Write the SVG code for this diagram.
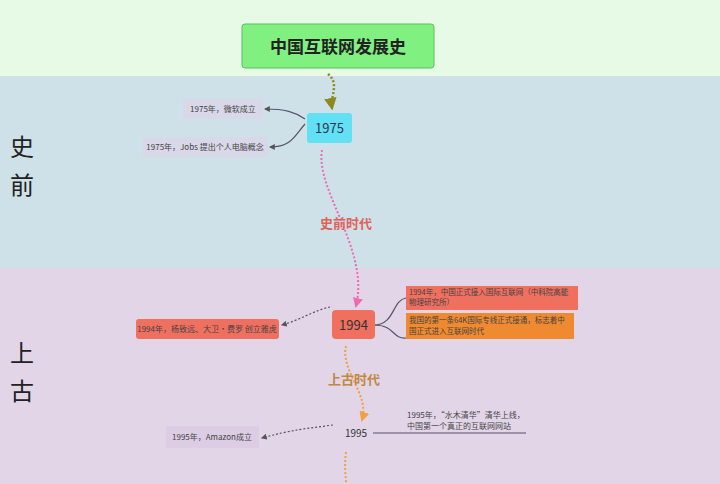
<svg xmlns="http://www.w3.org/2000/svg" width="720" height="484" viewBox="0 0 720 484">
<defs>
<style>
text{font-family:"Noto Sans CJK SC","Noto Sans",sans-serif}
.s{font-size:8px;fill:#444}
.t{font-size:7.5px;fill:#444}
.side{font-size:24px;fill:#222}
.gl{fill:none;stroke:#555;stroke-width:1.2;stroke-dasharray:2,2}
.sl{fill:none;stroke:#556;stroke-width:1.2}
</style>
<marker id="ah" viewBox="0 0 10 10" refX="8" refY="5" markerWidth="5" markerHeight="5" orient="auto"><path d="M0,0L10,5L0,10z" fill="#555"/></marker>
<marker id="aol" viewBox="0 0 10 10" refX="8" refY="5" markerWidth="5" markerHeight="5" orient="auto"><path d="M0,0L10,5L0,10z" fill="#8a8a20"/></marker>
<marker id="apk" viewBox="0 0 10 10" refX="8" refY="5" markerWidth="5" markerHeight="5" orient="auto"><path d="M0,0L10,5L0,10z" fill="#f06ab0"/></marker>
<marker id="aor" viewBox="0 0 10 10" refX="8" refY="5" markerWidth="5" markerHeight="5" orient="auto"><path d="M0,0L10,5L0,10z" fill="#f0a040"/></marker>
</defs>
<rect width="720" height="76" fill="#e6fae6"/>
<rect y="76" width="720" height="192" fill="#cfe1e8"/>
<rect y="268" width="720" height="216" fill="#e3d5e8"/>
<text x="10" y="156" class="side">史</text>
<text x="10" y="194" class="side">前</text>
<text x="10" y="362" class="side">上</text>
<text x="10" y="400" class="side">古</text>

<g id="connectors">
<path d="M328,74 C340,84 330,96 332,108" fill="none" stroke="#8a8a20" stroke-width="2.5" stroke-dasharray="2,2" marker-end="url(#aol)"/>
<path d="M322,150 C315,190 370,250 356,306" fill="none" stroke="#f06ab0" stroke-width="2" stroke-dasharray="2,2" marker-end="url(#apk)"/>
<path d="M346,346 C340,370 370,395 362,420" fill="none" stroke="#f0a040" stroke-width="2" stroke-dasharray="2,2" marker-end="url(#aor)"/>
<path d="M346,452 C344,465 346,478 346,484" fill="none" stroke="#f0a040" stroke-width="2" stroke-dasharray="2,2"/>
<path d="M305,119 C295,112 285,109 265,109" class="sl" marker-end="url(#ah)"/>
<path d="M305,124 C295,135 292,147 270,147" class="sl" marker-end="url(#ah)"/>
<path d="M330,307 C315,310 300,320 282,325" class="gl" marker-end="url(#ah)"/>
<path d="M374,325 C395,325 392,300 406,298" class="sl"/>
<path d="M374,325 C395,325 392,339 406,338" class="sl"/>
<path d="M333,425 C310,428 290,430 262,438" class="gl" marker-end="url(#ah)"/>
<path d="M373,433 L526,433" class="sl"/>
</g>

<g id="title"><rect x="242" y="24" width="192" height="44" rx="3" fill="#80f080" stroke="#5cc05c"/><text x="338" y="53" text-anchor="middle" font-size="17" font-weight="bold" fill="#222">中国互联网发展史</text></g>
<g id="n1975"><rect x="307" y="113" width="45" height="30" rx="3" fill="#62e0f4"/><text x="329.5" y="133" text-anchor="middle" font-size="13" fill="#335">1975</text></g>
<g id="n1975a"><rect x="183" y="99" width="80" height="20" fill="#d8d8e8"/><text x="223" y="112" text-anchor="middle" class="s">1975年，微软成立</text></g>
<g id="n1975b"><rect x="143" y="137" width="125" height="20" fill="#d8d8e8"/><text x="205" y="150" text-anchor="middle" class="s">1975年，Jobs 提出个人电脑概念</text></g>
<g id="lbl1"><text x="346" y="228" text-anchor="middle" font-size="13" font-weight="bold" fill="#e0605a">史前时代</text></g>

<g id="n1994"><rect x="332" y="310" width="43" height="29" rx="4" fill="#f07060"/><text x="353.5" y="330" text-anchor="middle" font-size="13" fill="#333">1994</text></g>
<g id="n1994a"><rect x="136" y="319" width="143" height="20" rx="3" fill="#f07060"/><text x="207" y="332" text-anchor="middle" class="s">1994年，杨致远、大卫·费罗 创立雅虎</text></g>
<g id="n1994b"><rect x="406" y="286" width="172" height="24" fill="#f07060"/><text x="409" y="295" class="t">1994年，中国正式接入国际互联网（中科院高能</text><text x="409" y="305" class="t">物理研究所）</text></g>
<g id="n1994c"><rect x="406" y="313" width="168" height="26" fill="#f08a30"/><text x="409" y="323" class="t">我国的第一条64K国际专线正式接通，标志着中</text><text x="409" y="334" class="t">国正式进入互联网时代</text></g>
<g id="lbl2"><text x="354" y="384" text-anchor="middle" font-size="13" font-weight="bold" fill="#c08840">上古时代</text></g>

<g id="n1995"><text x="356" y="437" text-anchor="middle" font-size="10" fill="#333">1995</text></g>
<g id="n1995a"><rect x="166" y="426" width="93" height="22" fill="#dccde4"/><text x="212" y="440" text-anchor="middle" class="s">1995年，Amazon成立</text></g>
<g id="n1995b"><text x="407" y="418" class="s">1995年，“水木清华”清华上线，</text><text x="407" y="429" class="s">中国第一个真正的互联网网站</text></g>
</svg>
